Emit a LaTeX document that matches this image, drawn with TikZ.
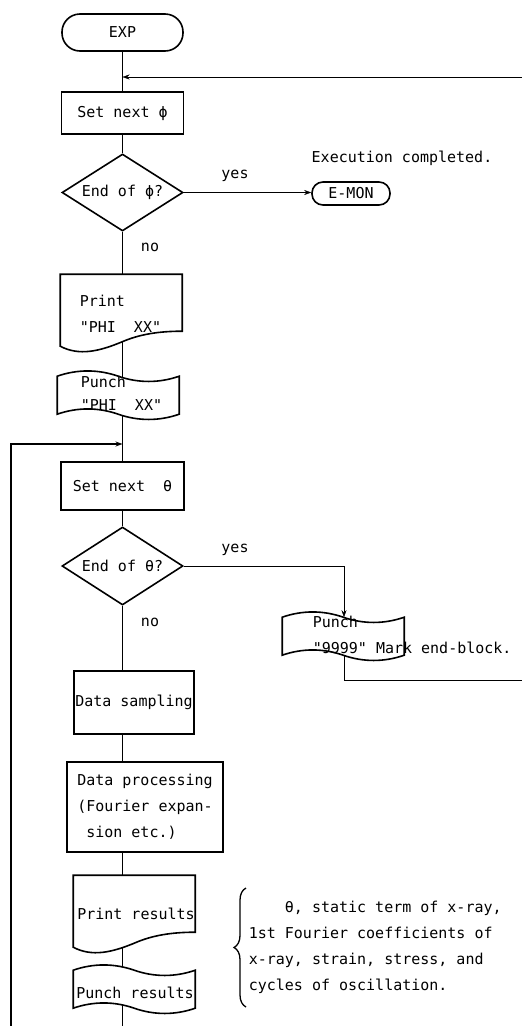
\documentclass[tikz,border=0pt]{standalone}
\usepackage{fontspec}
\newfontfamily\tw{DejaVu Sans Mono}
\usetikzlibrary{shapes.geometric,arrows.meta,calc,decorations.pathreplacing}
\pgfdeclarelayer{bg}
\pgfsetlayers{bg,main}
\tikzset{
  tapeshape/.pic={\draw[fill=white] (0,0) .. controls (20,-7) and (41,-7) .. (61,0) .. controls (81,7) and (102,7) .. (122,0) -- (122,38) .. controls (102,45) and (81,45) .. (61,38) .. controls (41,31) and (20,31) .. (0,38) -- cycle;},
  docshape/.pic={\draw[fill=white] (0,72) -- (0,0) -- (122,0) -- (122,57) .. controls (99,57) and (79,60) .. (61,68) .. controls (39,77) and (19,82) .. (0,72) -- cycle;}
}
\begin{document}
\begin{tikzpicture}[x=1pt,y=-1pt, line width=1.6pt,
  every node/.style={font=\tw\fontsize{15}{26}\selectfont, inner sep=0pt},
  box/.style={draw, fill=white, rectangle},
  term/.style={draw, fill=white, rectangle},
  dec/.style={draw, fill=white, diamond, aspect=1.57},
  ghost/.style={rectangle, draw=none},
  arr/.style={-{Stealth[length=7pt,width=5pt]}},
  loopline/.style={line width=2.2pt}
]
\useasboundingbox (0,0) rectangle (522,1026);

% upper column
\node[term, minimum width=121pt, minimum height=37pt, rounded corners=18pt] (exp) at (122.5,32.5) {EXP};
\node[box, minimum width=122pt, minimum height=42pt] (setphi) at (122.5,113) {Set next ϕ};
\node[dec, minimum width=121pt, minimum height=77pt] (endphi) at (122.5,192.5) {End of ϕ?};
\node[term, minimum width=78pt, minimum height=23pt, rounded corners=11pt] (emon) at (351,193.5) {E-MON};
\node (exec) at (402,158) {Execution completed.};
\node (yes1) at (235,176) {yes};
\node (no1) at (150,247) {no};

\node[ghost, minimum width=122pt, minimum height=72pt] (printphi) at (122,311) {};
\pic at (printphi.north west) {docshape};
\node[anchor=west, align=left] (printphitxt) at (79,313.5) {Print\\"PHI\ \ XX"};

\node[ghost, minimum width=122pt, minimum height=38pt] (punchphi) at (119,396) {};
\pic at (punchphi.north west) {tapeshape};
\node[anchor=west, align=left] (punchphitxt) at (80,393.5) {Punch\\[-3pt]"PHI\ \ XX"};

% theta loop
\node[box, minimum width=123pt, minimum height=48pt] (setth) at (122.5,486) {Set next\ \ θ};
\node[dec, minimum width=121pt, minimum height=78pt] (endth) at (122.5,566) {End of θ?};
\node (yes2) at (235,550) {yes};
\node (no2) at (150,622) {no};

\node[ghost, minimum width=122pt, minimum height=38pt] (p9999) at (344,637) {};
\pic at (p9999.north west) {tapeshape};
\node[anchor=west, align=left] (p9999txt) at (312,635) {Punch\\"9999" Mark end-block.};

\node[box, minimum width=120pt, minimum height=63pt] (dsamp) at (134,702.5) {Data sampling};
\node[box, minimum width=156pt, minimum height=90pt, align=left] (dproc) at (145,807) {Data processing\\(Fourier expan-\\\hspace*{0.602em}sion etc.)};

\node[ghost, minimum width=122pt, minimum height=72pt] (presults) at (135,912) {};
\pic at (presults.north west) {docshape};
\node (presultstxt) at (136,914) {Print results};

\node[ghost, minimum width=122pt, minimum height=38pt] (punres) at (135,990) {};
\pic at (punres.north west) {tapeshape};
\node (punrestxt) at (135,993) {Punch results};

% brace note
\draw[line width=1.3pt, decorate, decoration={brace, amplitude=12pt}] (246,1007) -- (246,888);
\node[anchor=west, align=left] (note) at (248,947.5) {\hspace*{2.408em}θ, static term of x-ray,\\1st Fourier coefficients of\\x-ray, strain, stress, and\\cycles of oscillation.};

% free ends
\coordinate (rt) at (522,77);
\coordinate (jphi) at (122.5,77);
\coordinate (rb) at (522,680);
\coordinate (lb) at (11,1026);
\coordinate (jth) at (122.5,444);
\coordinate (sb) at (122.5,1026);

\begin{pgfonlayer}{bg}
  \draw (exp) -- (setphi);
  \draw (setphi) -- (endphi);
  \draw (endphi.south) -- (endphi.south |- printphi.center);
  \draw (endphi.south |- printphi.center) -- (endphi.south |- punchphi.center);
  \draw (endphi.south |- punchphi.center) -- (setth);
  \draw (setth) -- (endth);
  \draw (endth.south) -- (endth.south |- dsamp.center);
  \draw (endth.south |- dsamp.center) -- (endth.south |- dproc.center);
  \draw (endth.south |- dproc.center) -- (endth.south |- presults.center);
  \draw (endth.south |- presults.center) -- (endth.south |- punres.center);
  \draw (endth.south |- punres.center) -- (sb);
  \draw (p9999.center) |- (rb);
\end{pgfonlayer}

\draw[arr] (rt) -- (jphi);
\draw[arr] (endphi.east) -- (endphi.east -| emon.west);
\draw[arr] (endth.east) -| (p9999.north);
\draw[arr, loopline] (lb) |- (jth);
\end{tikzpicture}
\end{document}
